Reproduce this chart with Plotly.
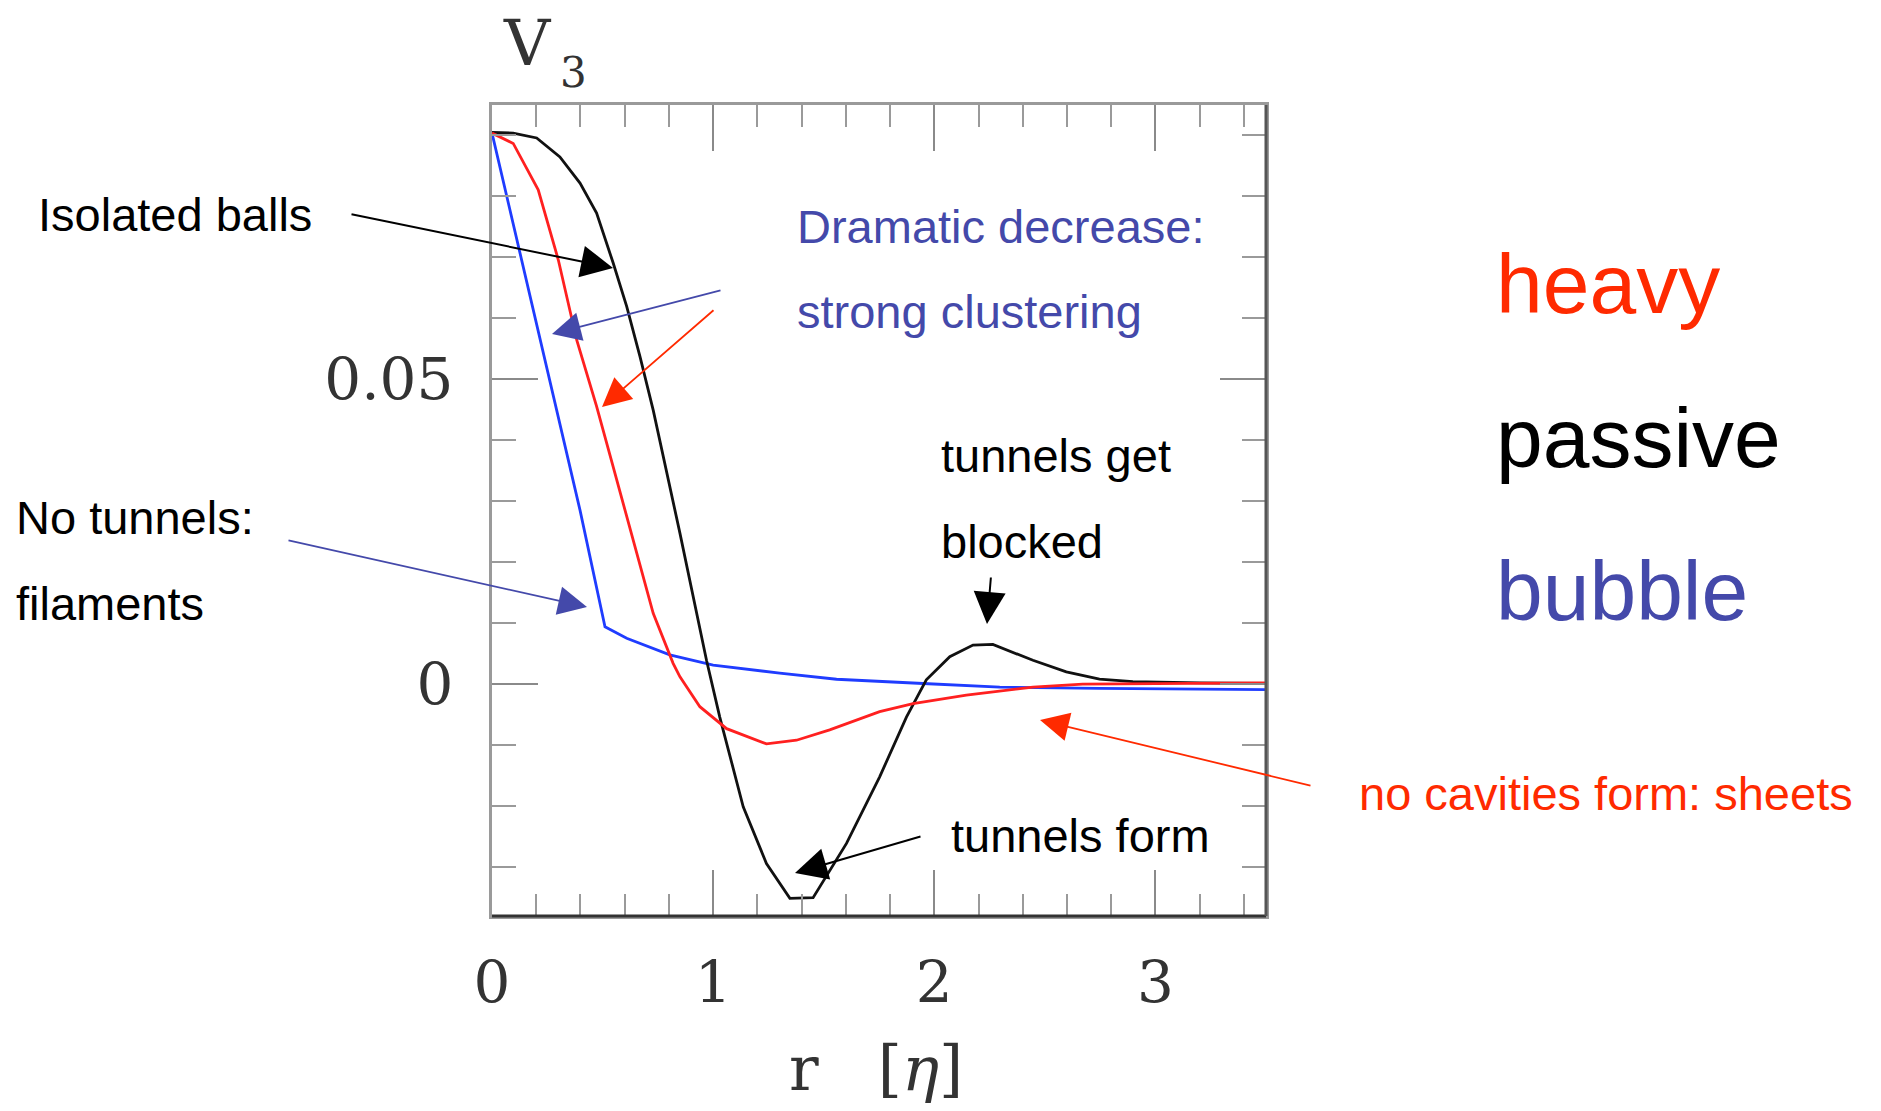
import plotly.graph_objects as go

# ---------------- data ----------------
r_passive = [0.0, 0.096, 0.202, 0.307, 0.398, 0.473, 0.548, 0.609, 0.669, 0.729, 0.850, 0.970,
             1.030, 1.136, 1.241, 1.347, 1.452, 1.603, 1.753, 1.874, 1.964, 2.070, 2.175, 2.265,
             2.446, 2.597, 2.747, 2.898, 3.2, 3.5]
v_passive = [0.0904, 0.0903, 0.0895, 0.0864, 0.0821, 0.0772, 0.0690, 0.0619, 0.0537, 0.0449, 0.0247, 0.0039,
             -0.0054, -0.0201, -0.0294, -0.0351, -0.0350, -0.0261, -0.0152, -0.0054, 0.0007, 0.0045, 0.0064, 0.0065,
             0.0039, 0.0020, 0.0008, 0.0004, 0.0002, 0.0001]

r_heavy = [0.0, 0.096, 0.209, 0.300, 0.383, 0.473, 0.548, 0.639, 0.729, 0.819, 0.850, 0.940,
           1.061, 1.241, 1.377, 1.527, 1.753, 1.904, 2.145, 2.446, 2.671, 3.5]
v_heavy = [0.0903, 0.0886, 0.0810, 0.0695, 0.0564, 0.0455, 0.0356, 0.0236, 0.0116, 0.0034, 0.0012, -0.0037,
           -0.0073, -0.0098, -0.0092, -0.0075, -0.0045, -0.0032, -0.0018, -0.0005, 0.0, 0.0002]

r_bubble = [0.0, 0.150, 0.292, 0.398, 0.511, 0.609, 0.804, 1.0, 1.301, 1.558, 1.949, 2.296, 2.747, 3.5]
v_bubble = [0.0903, 0.0672, 0.0449, 0.0285, 0.0094, 0.0075, 0.0048, 0.0031, 0.0018, 0.0008, 0.0001, -0.0005, -0.0007, -0.0009]

x_tickvals = [0, 1, 2, 3]
x_ticktext = ["0", "1", "2", "3"]
y_tickvals = [0, 0.05]
y_ticktext = ["0", "0.05"]

# ---------------- layout helpers ----------------
OFF = 8  # default page body margin
W, H = 1881 - OFF, 1111 - OFF
L, R, T, B = 492, 1266, 105, 916  # plot area in page pixels


def px(x):
    return (x - L) / (R - L)


def py(y):
    return (B - y) / (B - T)


RED = "#ff2a00"
PURPLE = "#4449aa"
BLUE = "#1f3cff"
SANS = "Liberation Sans, Arial, sans-serif"
SERIF = "DejaVu Serif, serif"

fig = go.Figure()
fig.add_trace(go.Scatter(x=r_bubble, y=v_bubble, mode="lines", line=dict(color=BLUE, width=2.8),
                         name="bubble", showlegend=False))
fig.add_trace(go.Scatter(x=r_passive, y=v_passive, mode="lines", line=dict(color="#111111", width=2.8),
                         name="passive", showlegend=False))
fig.add_trace(go.Scatter(x=r_heavy, y=v_heavy, mode="lines", line=dict(color="#ff2020", width=2.8),
                         name="heavy", showlegend=False))

annotations = []


def text(left, baseline, s, size=47, color="black", family=SANS):
    annotations.append(dict(x=px(left), y=py(baseline - 0.35 * size), xref="paper", yref="paper",
                            xanchor="left", yanchor="middle", text=s, showarrow=False,
                            font=dict(family=family, size=size, color=color)))


def arrow(tail, tip, color, width=2, size=3.2):
    annotations.append(dict(x=px(tip[0]), y=py(tip[1]), xref="paper", yref="paper",
                            ax=tail[0] - tip[0], ay=tail[1] - tip[1], axref="pixel", ayref="pixel",
                            text="", showarrow=True, arrowhead=2, arrowsize=size, arrowwidth=width,
                            arrowcolor=color, standoff=0))


text(36, 231, "Isolated balls")
text(795, 243, "Dramatic decrease:", color=PURPLE)
text(795, 328, "strong clustering", color=PURPLE)
text(14, 534, "No tunnels:")
text(14, 620, "filaments")
text(939, 472, "tunnels get")
text(939, 558, "blocked")
text(949, 852, "tunnels form")
text(1357, 810, "no cavities form: sheets", color=RED)
text(1494, 313, "heavy", size=84, color=RED)
text(1494, 467, "passive", size=84, color="black")
text(1494, 620, "bubble", size=84, color=PURPLE)

arrow((350, 214), (613, 268), "black")
arrow((722, 290), (552, 334), PURPLE, 1.8)
arrow((715, 309), (602, 407), RED, 1.8)
arrow((287, 540), (587, 607), PURPLE, 1.8)
arrow((991, 576), (987, 624), "black")
arrow((922, 836), (795, 873), "black")
arrow((1312, 786), (1040, 720), RED, 1.8)

# axis titles (text)
annotations.append(dict(x=px(527), y=py(43), xref="paper", yref="paper", xanchor="center", yanchor="middle",
                        text="V", showarrow=False, font=dict(family=SERIF, size=64, color="#333")))
annotations.append(dict(x=px(573), y=py(73), xref="paper", yref="paper", xanchor="center", yanchor="middle",
                        text="3", showarrow=False, font=dict(family=SERIF, size=42, color="#333")))
annotations.append(dict(x=px(876), y=py(1068), xref="paper", yref="paper", xanchor="center", yanchor="middle",
                        text="r   [<i>η</i>]", showarrow=False, font=dict(family=SERIF, size=62, color="#333")))

fig.update_layout(
    width=W, height=H,
    margin=dict(l=L - OFF, r=W - (R - OFF), t=T - OFF, b=H - (B - OFF), pad=0),
    paper_bgcolor="white", plot_bgcolor="white",
    annotations=annotations,
    shapes=[
        dict(type="line", xref="paper", yref="paper", x0=0, x1=1, y0=0, y1=0,
             line=dict(color="#333333", width=3), layer="above"),
        dict(type="line", xref="paper", yref="paper", x0=1, x1=1, y0=0, y1=1,
             line=dict(color="#555555", width=3), layer="above"),
    ],
)

fig.update_xaxes(
    range=[0, 3.5], showgrid=False, zeroline=False, automargin=False,
    showline=True, linecolor="#9a9a9a", linewidth=3, mirror="ticks",
    ticks="inside", ticklen=46, tickwidth=2, tickcolor="#8a8a8a",
    tickvals=x_tickvals, ticktext=x_ticktext, ticklabelstandoff=13,
    tickfont=dict(family=SERIF, size=58, color="#333"),
    minor=dict(dtick=0.2, tick0=0, ticks="inside", ticklen=22, tickwidth=2, tickcolor="#9a9a9a", showgrid=False),
)
fig.update_yaxes(
    range=[-0.038, 0.0949], showgrid=False, zeroline=False, automargin=False,
    showline=True, linecolor="#9a9a9a", linewidth=3, mirror="ticks",
    ticks="inside", ticklen=46, tickwidth=2, tickcolor="#8a8a8a",
    tickvals=y_tickvals, ticktext=y_ticktext, ticklabelstandoff=24,
    tickfont=dict(family=SERIF, size=58, color="#333"),
    minor=dict(dtick=0.01, tick0=0, ticks="inside", ticklen=24, tickwidth=2, tickcolor="#9a9a9a", showgrid=False),
)

fig.write_html("out.html")
